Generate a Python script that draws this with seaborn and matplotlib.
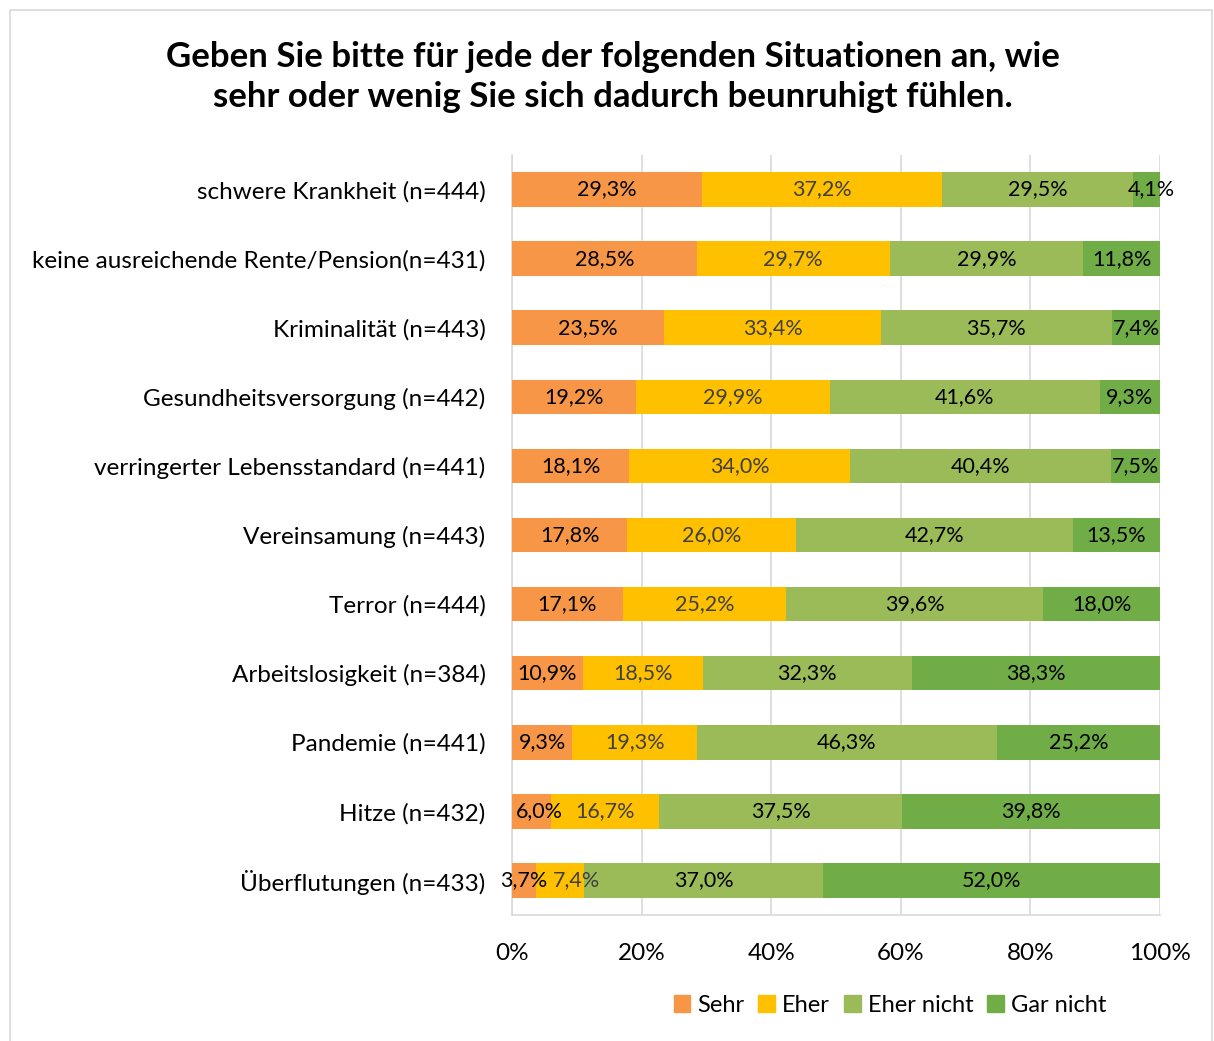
import numpy as np
import pandas as pd
import seaborn as sns
import matplotlib.pyplot as plt
import matplotlib.patches as mpatches

# data
categories = [
    "schwere Krankheit (n=444)",
    "keine ausreichende Rente/Pension(n=431)",
    "Kriminalität (n=443)",
    "Gesundheitsversorgung (n=442)",
    "verringerter Lebensstandard (n=441)",
    "Vereinsamung (n=443)",
    "Terror (n=444)",
    "Arbeitslosigkeit (n=384)",
    "Pandemie (n=441)",
    "Hitze (n=432)",
    "Überflutungen (n=433)",
]
sehr = [29.3, 28.5, 23.5, 19.2, 18.1, 17.8, 17.1, 10.9, 9.3, 6.0, 3.7]
eher = [37.2, 29.7, 33.4, 29.9, 34.0, 26.0, 25.2, 18.5, 19.3, 16.7, 7.4]
eher_nicht = [29.5, 29.9, 35.7, 41.6, 40.4, 42.7, 39.6, 32.3, 46.3, 37.5, 37.0]
gar_nicht = [4.1, 11.8, 7.4, 9.3, 7.5, 13.5, 18.0, 38.3, 25.2, 39.8, 52.0]

series_names = ["Sehr", "Eher", "Eher nicht", "Gar nicht"]
series_colors = ["#F79646", "#FFC000", "#9BBB59", "#70AD47"]
label_colors = ["#000000", "#404040", "#000000", "#000000"]

# small label nudges (series index, row index) -> x shift in %, like Excel does
label_nudge = {(1, 10): 2.6, (0, 9): 1.2, (3, 0): 0.7}

title = "Geben Sie bitte für jede der folgenden Situationen an, wie\nsehr oder wenig Sie sich dadurch beunruhigt fühlen."

W, H = 1214, 1041

sns.set_theme(style="white")
plt.rcParams["font.family"] = ["Lato", "DejaVu Sans"]
plt.rcParams["text.color"] = "#000000"

fig = plt.figure(figsize=(W / 100, H / 100), dpi=100)
ax = fig.add_axes([512 / W, 1 - 915 / H, 648 / W, 760 / H])

# outer chart border
fig.patches.append(mpatches.Rectangle(
    (10 / W, -0.01), 1202 / W, 1 - 10 / H + 0.01,
    transform=fig.transFigure, fill=False, edgecolor="#D9D9D9", linewidth=1.2))

vals = np.array([sehr, eher, eher_nicht, gar_nicht], dtype=float)
vals_pct = vals / vals.sum(axis=0) * 100  # 100% stacked, like Excel
cum = vals_pct.cumsum(axis=0)

df = pd.DataFrame({"cat": categories})
# draw the cumulative bars from the widest down so each segment shows
for i in reversed(range(4)):
    df["x"] = cum[i]
    sns.barplot(data=df, y="cat", x="x", orient="h", order=categories,
                color=series_colors[i], width=0.5, saturation=1,
                linewidth=0, ax=ax, zorder=3)

# segment labels
for i in range(4):
    left = cum[i] - vals_pct[i]
    for j, v in enumerate(vals[i]):
        ax.text(left[j] + vals_pct[i][j] / 2 + label_nudge.get((i, j), 0), j,
                f"{v:.1f}".replace(".", ",") + "%",
                ha="center", va="center", fontsize=15.5,
                color=label_colors[i], zorder=5)

ax.set_xlim(0, 100)
ax.set_ylim(len(categories) - 0.5, -0.5)
ax.set_xticks(range(0, 101, 20))
ax.set_xticklabels([f"{t}%" for t in range(0, 101, 20)])
ax.set_xlabel("")
ax.set_ylabel("")
ax.grid(axis="x", color="#D9D9D9", linewidth=1.2, zorder=0)
ax.grid(axis="y", visible=False)
ax.set_axisbelow(True)
for s in ["top", "right"]:
    ax.spines[s].set_visible(False)
for s in ["left", "bottom"]:
    ax.spines[s].set_color("#D9D9D9")
    ax.spines[s].set_linewidth(1.2)
ax.tick_params(axis="y", length=0, pad=19, labelsize=17.5, labelcolor="#000000")
ax.tick_params(axis="x", length=0, pad=20, labelsize=17.5, labelcolor="#000000")

fig.text(613 / W, 1 - 77 / H, title, ha="center", va="center",
         fontsize=25, fontweight="bold", linespacing=1.3)

handles = [mpatches.Patch(color=c, label=n) for n, c in zip(series_names, series_colors)]
fig.legend(handles=handles, loc="center", bbox_to_anchor=(890 / W, 1 - 1005 / H),
           ncol=4, frameon=False, fontsize=17, handlelength=0.7, handleheight=0.7,
           handletextpad=0.3, columnspacing=0.6)

fig.savefig("out.png", dpi=100)
